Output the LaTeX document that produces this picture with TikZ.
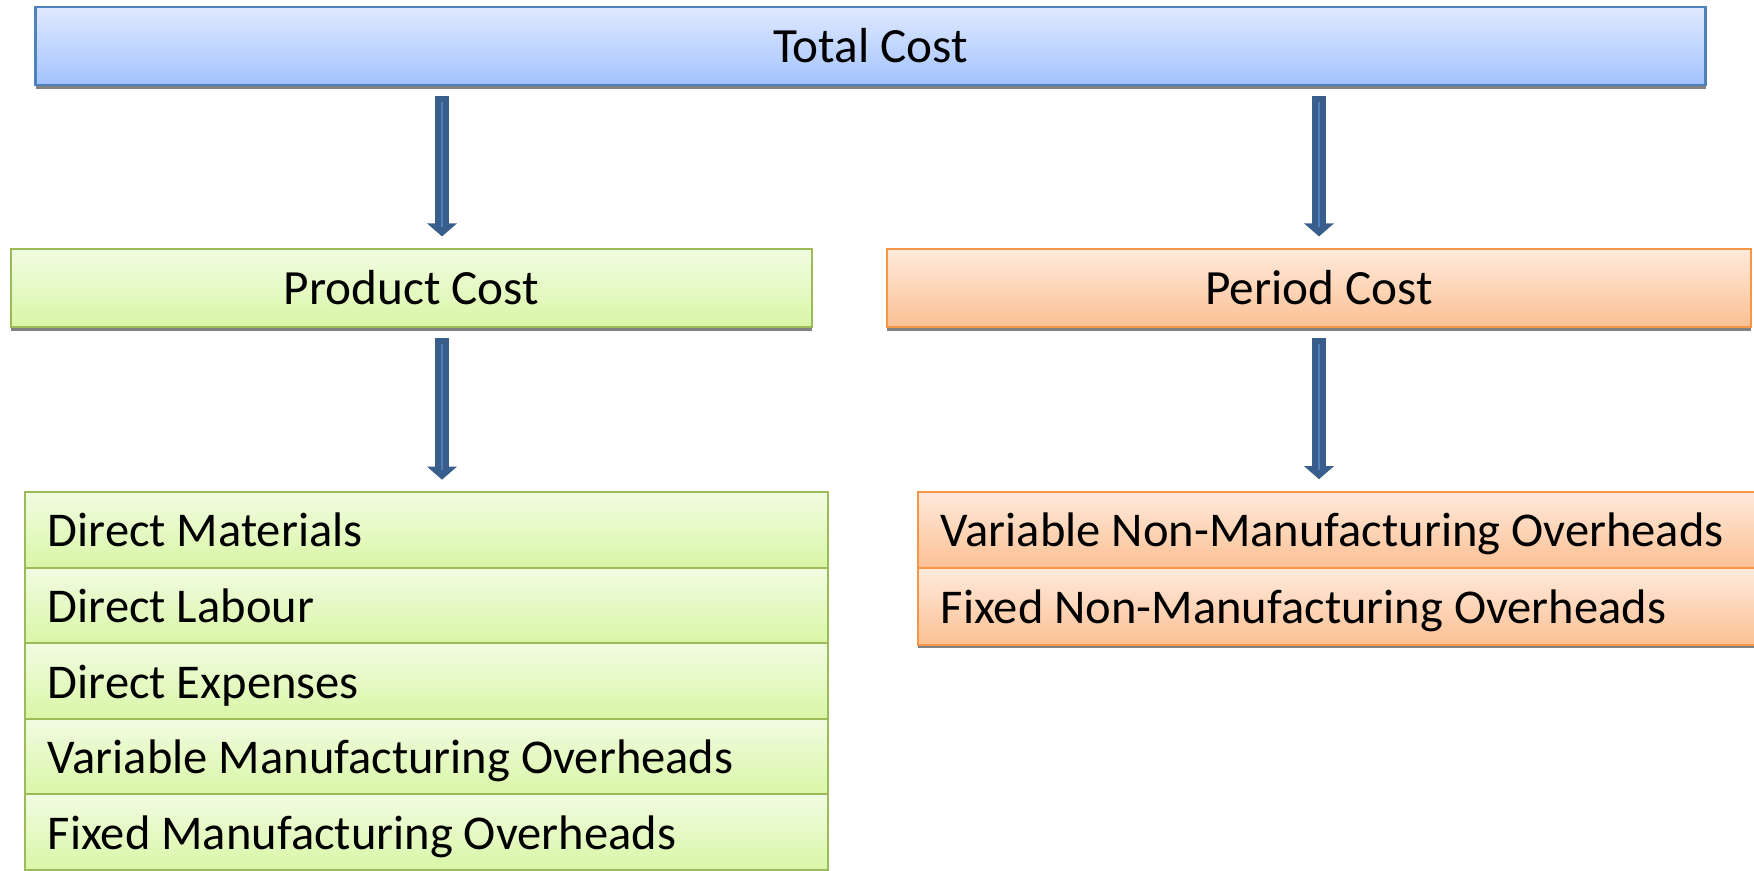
\documentclass[tikz,border=0pt]{standalone}
\usepackage{fontspec}
\setmainfont{Carlito}
\usepackage{xcolor}
\usetikzlibrary{positioning,arrows.meta,shadows}

\definecolor{blueedge}{HTML}{4F81BD}
\definecolor{bluetop}{HTML}{DFE9FF}
\definecolor{bluebot}{HTML}{A3C3FE}
\definecolor{greenedge}{HTML}{9BBB59}
\definecolor{greentop}{HTML}{F1FCE2}
\definecolor{greenbot}{HTML}{D9F6A6}
\definecolor{orangeedge}{HTML}{F79646}
\definecolor{orangetop}{HTML}{FFEADC}
\definecolor{orangebot}{HTML}{FBC093}
\definecolor{arrowdark}{HTML}{3A5E8C}
\definecolor{arrowlight}{HTML}{4F81BD}

\begin{document}
\begin{tikzpicture}[
        x=0.01cm, y=-0.01cm,
        font=\fontsize{14}{17}\selectfont,
        box/.style={rectangle, line width=0.6pt, outer sep=0pt, inner sep=0pt,
            text height=0.41cm, text depth=0.07cm,
            drop shadow={shadow xshift=0cm, shadow yshift=-0.035cm, fill=black!55, opacity=0.9}},
        totalbox/.style={box, draw=blueedge, line width=0.8pt, top color=bluetop, bottom color=bluebot,
            minimum width=16.69cm, minimum height=0.78cm},
        productbox/.style={box, draw=greenedge, top color=greentop, bottom color=greenbot,
            minimum width=8.01cm, minimum height=0.78cm},
        periodbox/.style={box, draw=orangeedge, top color=orangetop, bottom color=orangebot,
            minimum width=8.64cm, minimum height=0.78cm},
        productitem/.style={productbox, font=\fontsize{13.8}{17}\selectfont,
            inner xsep=0.23cm, text width=7.57cm, align=flush left,
            minimum width=8.03cm, minimum height=0.755cm},
        perioditem/.style={periodbox, font=\fontsize{13.8}{17}\selectfont,
            inner xsep=0.23cm, text width=7.92cm, align=flush left,
            minimum width=8.38cm, minimum height=0.765cm},
        flowarrow/.style={draw=arrowdark, line width=0.14cm,
            -{Triangle[length=0.13cm, width=0.29cm]},
            shorten <=0.11cm, shorten >=0.125cm,
            postaction={draw=arrowlight, line width=0.025cm, -, shorten <=0.17cm, shorten >=0.22cm}}
    ]
    \useasboundingbox (0,0) rectangle (1754,871);

    % headings
    \node[totalbox] (total) at (870.5,46) {Total Cost};
    \node[productbox] (product) at (411.5,288) {Product Cost};
    \node[periodbox] (period) at (1319,288) {Period Cost};

    % product cost elements
    \node[productitem] (dm) at (426.5,530) {Direct Materials};
    \node[productitem, below=0pt of dm] (dl) {Direct Labour};
    \node[productitem, below=0pt of dl] (de) {Direct Expenses};
    \node[productitem, below=0pt of de] (vmo) {Variable Manufacturing Overheads};
    \node[productitem, below=0pt of vmo] (fmo) {Fixed Manufacturing Overheads};

    % period cost elements
    \node[perioditem] (vnmo) at (1337,530) {Variable Non-Manufacturing Overheads};
    \node[perioditem, below=0pt of vnmo] (fnmo) {Fixed Non-Manufacturing Overheads};

    % arrow columns
    \coordinate (lcol) at (442,0);
    \coordinate (rcol) at (1319,0);

    \draw[flowarrow] (total.south -| lcol) -- (product.north -| lcol);
    \draw[flowarrow] (total.south -| rcol) -- (period.north -| rcol);
    \draw[flowarrow] (product.south -| lcol) -- (dm.north -| lcol);
    \draw[flowarrow] (period.south -| rcol) -- (vnmo.north -| rcol);

\end{tikzpicture}
\end{document}
